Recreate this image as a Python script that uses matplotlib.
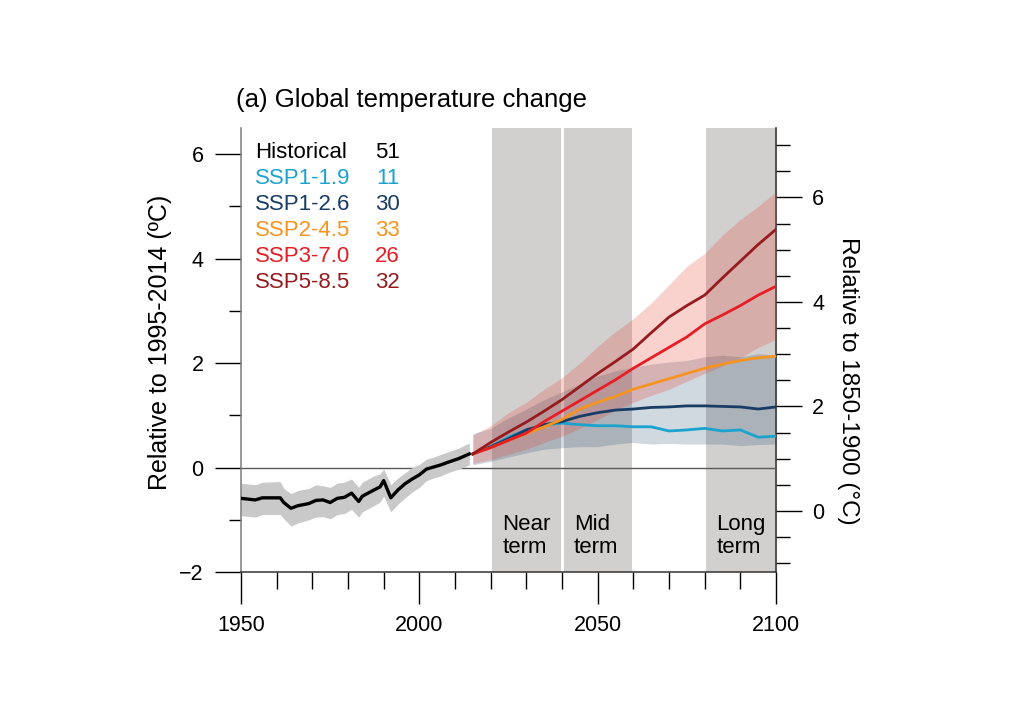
import numpy as np
import matplotlib
matplotlib.use("Agg")
import matplotlib.pyplot as plt
from matplotlib.ticker import MultipleLocator

plt.rcParams['font.family'] = ['Liberation Sans', 'DejaVu Sans']

# historical (1950-2014), relative to 1995-2014
hist_years = [1950, 1954, 1956, 1961, 1962, 1964, 1966, 1969, 1971, 1973, 1975, 1977, 1979, 1981, 1983,
              1984, 1987, 1989, 1990, 1992, 1994, 1996, 1998, 2000, 2002, 2004, 2006, 2008, 2011, 2014]
hist_mean = [-0.59, -0.62, -0.58, -0.58, -0.67, -0.78, -0.73, -0.69, -0.63, -0.62, -0.67, -0.59, -0.57, -0.49, -0.65,
             -0.55, -0.44, -0.37, -0.25, -0.58, -0.43, -0.31, -0.22, -0.14, -0.03, 0.01, 0.05, 0.10, 0.17, 0.26]
hist_hi = [-0.30, -0.33, -0.28, -0.27, -0.40, -0.50, -0.44, -0.40, -0.33, -0.35, -0.38, -0.30, -0.28, -0.22, -0.38,
           -0.28, -0.17, -0.12, -0.03, -0.33, -0.20, -0.10, 0.00, 0.06, 0.16, 0.20, 0.25, 0.30, 0.37, 0.47]
hist_lo = [-0.92, -0.95, -0.90, -0.90, -0.98, -1.12, -1.06, -1.00, -0.95, -0.94, -0.98, -0.90, -0.88, -0.80, -0.95,
           -0.85, -0.74, -0.66, -0.55, -0.85, -0.70, -0.58, -0.47, -0.38, -0.25, -0.20, -0.16, -0.10, -0.03, 0.05]

# scenarios 2015-2100
proj_years = [2015, 2020, 2025, 2030, 2035, 2040, 2045, 2050, 2055, 2060, 2065, 2070, 2075, 2080, 2085, 2090, 2095, 2100]
ssp119 = [0.26, 0.40, 0.58, 0.72, 0.82, 0.85, 0.82, 0.80, 0.80, 0.78, 0.78, 0.70, 0.72, 0.75, 0.70, 0.72, 0.58, 0.60]
ssp126 = [0.26, 0.40, 0.55, 0.72, 0.82, 0.88, 0.98, 1.05, 1.10, 1.12, 1.15, 1.16, 1.18, 1.18, 1.17, 1.16, 1.12, 1.16]
ssp245 = [0.26, 0.38, 0.52, 0.65, 0.78, 0.92, 1.12, 1.25, 1.36, 1.50, 1.60, 1.70, 1.80, 1.90, 1.98, 2.05, 2.10, 2.13]
ssp370 = [0.26, 0.38, 0.52, 0.66, 0.88, 1.08, 1.28, 1.48, 1.68, 1.90, 2.10, 2.30, 2.50, 2.75, 2.92, 3.10, 3.30, 3.47]
ssp585 = [0.26, 0.48, 0.68, 0.87, 1.08, 1.30, 1.55, 1.80, 2.03, 2.27, 2.58, 2.88, 3.10, 3.30, 3.63, 3.95, 4.27, 4.56]

ssp126_lo = [0.05, 0.12, 0.20, 0.28, 0.35, 0.38, 0.40, 0.40, 0.45, 0.48, 0.45, 0.46, 0.45, 0.45, 0.45, 0.42, 0.44, 0.45]
ssp126_hi = [0.65, 0.75, 0.95, 1.12, 1.30, 1.45, 1.60, 1.75, 1.85, 1.92, 1.98, 2.02, 2.05, 2.12, 2.15, 2.12, 2.18, 2.15]
ssp370_lo = [0.08, 0.15, 0.25, 0.35, 0.48, 0.60, 0.75, 0.92, 1.10, 1.25, 1.38, 1.50, 1.65, 1.80, 1.95, 2.10, 2.30, 2.45]
ssp370_hi = [0.62, 0.80, 1.05, 1.25, 1.50, 1.72, 2.00, 2.32, 2.60, 2.85, 3.15, 3.50, 3.85, 4.10, 4.45, 4.75, 5.00, 5.28]

legend_names = ['Historical', 'SSP1-1.9', 'SSP1-2.6', 'SSP2-4.5', 'SSP3-7.0', 'SSP5-8.5']
legend_counts = ['51', '11', '30', '33', '26', '32']
colors = ['black', '#1ba3d0', '#173c66', '#f79420', '#e71d25', '#951b1e']

periods = [('Near\nterm', 2021, 2040), ('Mid\nterm', 2041, 2060), ('Long\nterm', 2081, 2100)]
offset_1850 = 0.83

fig = plt.figure(figsize=(10.24, 7.19), dpi=100)
ax = fig.add_axes([241 / 1024, 147 / 719, 535 / 1024, 444 / 719])

ax.set_xlim(1950, 2100)
ax.set_ylim(-2, 6.5)

# assessment periods
for name, start, end in periods:
    ax.axvspan(start - 0.5, min(end - 0.3, 2100), color='#d1d0ce', lw=0, zorder=0)
    ax.text(start + 2.3, -1.31, name, fontsize=16, ha='left', va='center', linespacing=1.15, zorder=5)

ax.axhline(0, color='#5a5a5a', lw=1.0, zorder=1)

# ranges
ax.fill_between(hist_years, hist_lo, hist_hi, color='#c9c9c9', lw=0, zorder=2)
ax.fill_between(proj_years, ssp126_lo, ssp126_hi, color=colors[2], alpha=0.2, lw=0, zorder=2)
ax.fill_between(proj_years, ssp370_lo, ssp370_hi, color='#e8402f', alpha=0.24, lw=0, zorder=2)

ax.plot(hist_years, hist_mean, color='black', lw=2.4, zorder=4)
for series, c in zip([ssp119, ssp126, ssp245, ssp370, ssp585], colors[1:]):
    ax.plot(proj_years, series, color=c, lw=2.0, zorder=4)

# legend as text
for i, (name, n, c) in enumerate(zip(legend_names, legend_counts, colors)):
    y = 0.944 - i * 0.0586
    ax.text(0.026, y, name, color=c, fontsize=16, transform=ax.transAxes, ha='left', va='center')
    ax.text(0.297, y, n, color=c, fontsize=16, transform=ax.transAxes, ha='right', va='center')

# axes styling
ax.spines['top'].set_visible(False)
ax.spines['right'].set_visible(False)
ax.spines['left'].set_color('#7a7a7a')
ax.spines['bottom'].set_color('#333333')
for s in ['left', 'bottom']:
    ax.spines[s].set_linewidth(1.1)

ax.xaxis.set_major_locator(MultipleLocator(50))
ax.xaxis.set_minor_locator(MultipleLocator(10))
ax.yaxis.set_major_locator(MultipleLocator(2))
ax.yaxis.set_minor_locator(MultipleLocator(1))
ax.tick_params(axis='x', which='major', length=23, width=1.0, labelsize=15.5, pad=8, direction='out')
ax.tick_params(axis='x', which='minor', length=12, width=1.0, direction='out')
ax.tick_params(axis='y', which='major', length=19, width=1.0, labelsize=15.5, pad=8, direction='out')
ax.tick_params(axis='y', which='minor', length=9, width=1.0, direction='out')

sec = ax.secondary_yaxis('right', functions=(lambda v: v + offset_1850, lambda v: v - offset_1850))
sec.spines['right'].set_color('#222222')
sec.spines['right'].set_linewidth(1.1)
sec.yaxis.set_major_locator(MultipleLocator(2))
sec.yaxis.set_minor_locator(MultipleLocator(0.5))
sec.tick_params(axis='y', which='major', length=19, width=1.0, labelsize=15.5, pad=7)
sec.tick_params(axis='y', which='minor', length=10, width=1.0)

fig.text(236 / 1024, 1 - 100 / 719, '(a) Global temperature change', fontsize=18.5, ha='left', va='center')
fig.text(160 / 1024, 1 - 342 / 719, 'Relative to 1995-2014 (ºC)', fontsize=18, rotation=90,
         ha='center', va='center')
fig.text(848 / 1024, 1 - 381 / 719, 'Relative to 1850-1900 (°C)', fontsize=17.5, rotation=270,
         ha='center', va='center')

fig.savefig('out.png', dpi=100)
